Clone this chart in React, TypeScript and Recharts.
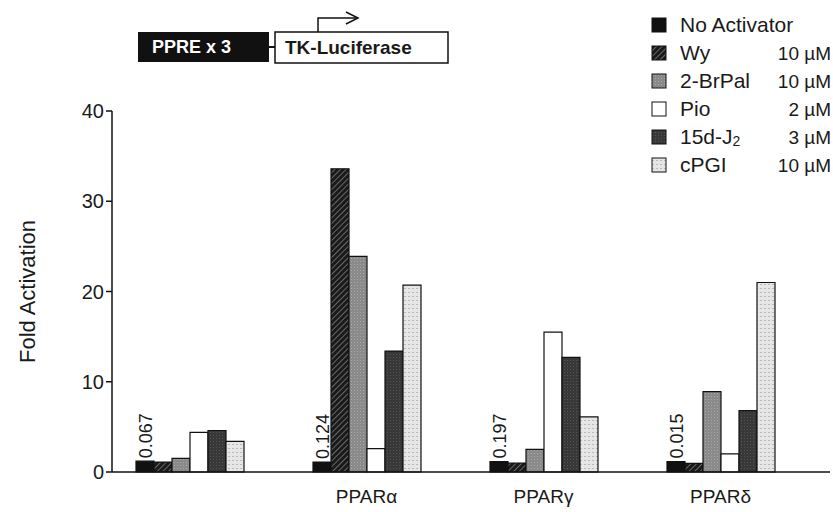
import React from "react";
import { Bar, BarChart, LabelList, XAxis, YAxis } from "recharts";

// groups along the x axis (first group had its label removed in the figure)
const categories = ["", "PPARα", "PPARγ", "PPARδ"];

// fold activation per activator, one value per group
const noActivator = [1.2, 1.1, 1.15, 1.15];
const wy = [1.1, 33.6, 1.0, 0.95];
const brPal = [1.5, 23.9, 2.5, 8.9];
const pio = [4.4, 2.6, 15.5, 2.0];
const j2 = [4.6, 13.4, 12.7, 6.8];
const cpgi = [3.4, 20.7, 6.1, 21.0];

// basal luciferase values printed over the "No Activator" bars
const baselineLabels = ["0.067", "0.124", "0.197", "0.015"];

const yTicks = [0, 10, 20, 30, 40];

const FONT = '"Liberation Sans", Arial, Helvetica, sans-serif';
const INK = "#1a1a1a";

type SeriesCfg = { key: string; name: string; dose: string; fill: string };

const series: SeriesCfg[] = [
  { key: "none", name: "No Activator", dose: "", fill: "#111" },
  { key: "wy", name: "Wy", dose: "10 µM", fill: "url(#hatch)" },
  { key: "brpal", name: "2-BrPal", dose: "10 µM", fill: "url(#midDots)" },
  { key: "pio", name: "Pio", dose: "2 µM", fill: "#fff" },
  { key: "j2", name: "15d-J2", dose: "3 µM", fill: "url(#darkDots)" },
  { key: "cpgi", name: "cPGI", dose: "10 µM", fill: "url(#lightRows)" },
];

const seriesValues: Record<string, number[]> = {
  none: noActivator,
  wy,
  brpal: brPal,
  pio,
  j2,
  cpgi,
};

const data = categories.map((name, i) => {
  const row: Record<string, any> = { name };
  series.forEach((s) => (row[s.key] = seriesValues[s.key][i]));
  return row;
});

// shared fill patterns, kept in their own zero-size svg
const Patterns = () => (
  <svg width={0} height={0} style={{ position: "absolute" }}>
    <defs>
      <pattern id="hatch" width={4} height={4} patternUnits="userSpaceOnUse" patternTransform="rotate(45)">
        <rect width={4} height={4} fill="#1a1a1a" />
        <line x1={0} y1={0} x2={0} y2={4} stroke="#a8a8a8" strokeWidth={1.1} />
      </pattern>
      <pattern id="midDots" width={3} height={3} patternUnits="userSpaceOnUse">
        <rect width={3} height={3} fill="#8a8a8a" />
        <rect width={1} height={1} fill="#a8a8a8" />
      </pattern>
      <pattern id="darkDots" width={3} height={3} patternUnits="userSpaceOnUse">
        <rect width={3} height={3} fill="#383838" />
        <rect width={1} height={1} fill="#555" />
      </pattern>
      <pattern id="lightRows" width={4} height={4} patternUnits="userSpaceOnUse">
        <rect width={4} height={4} fill="#e6e6e6" />
        <rect width={2} height={1} fill="#b9b9b9" />
      </pattern>
    </defs>
  </svg>
);

// PPRE x 3 / TK-Luciferase construct drawn above the plot
const Construct = () => (
  <svg width={833} height={80} style={{ position: "absolute", left: 0, top: 0 }}>
    <rect x={138} y={32} width={131} height={30} fill="#111" />
    <text x={152} y={53} fill="#fff" fontFamily={FONT} fontWeight={700} fontSize={18}>
      PPRE x 3
    </text>
    <line x1={269} y1={47} x2={275} y2={47} stroke="#111" strokeWidth={2} />
    <rect x={275} y={32} width={173} height={31} fill="#fff" stroke="#111" strokeWidth={1.5} />
    <text x={285} y={54} fill={INK} fontFamily={FONT} fontWeight={700} fontSize={19}>
      TK-Luciferase
    </text>
    <polyline points="318,32 318,18 358,18" fill="none" stroke="#111" strokeWidth={1.5} />
    <polyline points="346,12 358,18 346,24" fill="none" stroke="#111" strokeWidth={1.5} />
  </svg>
);

// legend sits over the top-right corner, outside the chart's layout
const LegendBox = () => (
  <svg width={193} height={190} style={{ position: "absolute", left: 640, top: 0 }}>
    {series.map((s, i) => {
      const cy = 25 + i * 28;
      return (
        <g key={s.key}>
          <rect x={12} y={cy - 7} width={14} height={14} fill={s.fill} stroke="#111" strokeWidth={1} />
          <text x={40} y={cy + 7} fontFamily={FONT} fontSize={21} fill={INK}>
            {s.key === "j2" ? (
              <>
                15d-J<tspan fontSize={14} dy={2}>2</tspan>
              </>
            ) : (
              s.name
            )}
          </text>
          {s.dose && (
            <text x={191} y={cy + 7} textAnchor="end" fontFamily={FONT} fontSize={19} fill={INK}>
              {s.dose}
            </text>
          )}
        </g>
      );
    })}
  </svg>
);

// rotated basal value just above the black bar
const BaselineLabel = (props: any) => {
  const { x, y, width, index } = props;
  const tx = x + width - 2;
  const ty = y - 3;
  return (
    <text
      x={tx}
      y={ty}
      transform={`rotate(-90, ${tx}, ${ty})`}
      fontFamily={FONT}
      fontSize={18}
      fill={INK}
      textAnchor="start"
    >
      {baselineLabels[index]}
    </text>
  );
};

export default function App() {
  return (
    <div style={{ position: "absolute", left: 0, top: 0, width: 833, height: 512, background: "#fff" }}>
      <Patterns />
      <Construct />
      <LegendBox />
      <BarChart
        width={833}
        height={512}
        data={data}
        margin={{ top: 111, right: 3, left: 0, bottom: 0 }}
        barSize={18}
        barGap={0}
      >
        <XAxis
          dataKey="name"
          height={40}
          padding={{ left: -11, right: 21 }}
          axisLine={{ stroke: "#111", strokeWidth: 1.5 }}
          tickLine={false}
          tickSize={0}
          tickMargin={18}
          tick={{ fill: INK, fontSize: 19, fontFamily: FONT }}
          interval={0}
        />
        <YAxis
          width={112}
          domain={[0, 40]}
          ticks={yTicks}
          axisLine={{ stroke: "#111", strokeWidth: 1.5 }}
          tickLine={{ stroke: "#111", strokeWidth: 1.5 }}
          tickSize={6}
          tickMargin={2}
          tick={{ fill: INK, fontSize: 20, fontFamily: FONT }}
          label={{
            value: "Fold Activation",
            angle: -90,
            position: "center",
            dx: -29,
            style: { fontSize: 22, fontFamily: FONT, fill: INK, textAnchor: "middle" },
          }}
        />
        {series.map((s) => (
          <Bar
            key={s.key}
            dataKey={s.key}
            name={s.name}
            fill={s.fill}
            stroke="#111"
            strokeWidth={1.2}
            isAnimationActive={false}
          >
            {s.key === "none" && <LabelList dataKey="none" content={BaselineLabel} />}
          </Bar>
        ))}
      </BarChart>
    </div>
  );
}
